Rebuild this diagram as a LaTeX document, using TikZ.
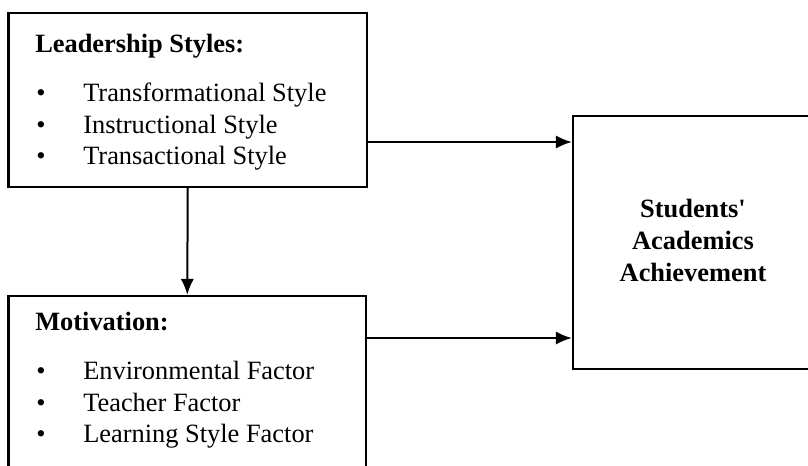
\documentclass[tikz,border=0pt]{standalone}
\usepackage{fontspec}
\setmainfont{Liberation Serif}
\usepackage{tikz}
\usetikzlibrary{positioning,calc,fit,arrows.meta}
\tikzset{box/.style={draw,line width=1.8pt,inner sep=0pt},
	hd/.style={anchor=base west,inner sep=0pt,font=\fontsize{19.8}{24}\selectfont\bfseries},
	itm/.style={anchor=base west,inner sep=0pt,font=\fontsize{19.8}{24}\selectfont},
	bul/.style={anchor=base west,inner sep=0pt,font=\fontsize{19.8}{24}\selectfont},
	arr/.style={line width=1.5pt,-{Latex[length=12pt,width=10pt]}}}

\begin{document}
\begin{tikzpicture}[x=0.75pt,y=-0.75pt]
	\useasboundingbox (0,0) rectangle (808,465);
	\clip (0,0) rectangle (808,465);
	\node[box,fit={(8.5,13) (367,187)}] (lead) {};
	\node[box,fit={(8.5,296) (366,490)}] (motiv) {};
	\node[box,fit={(573,116) (813,369)}] (ach) {};
	\node[hd] (leadhd) at (35,52) {Leadership Styles:};
	\foreach \t [count=\i] in {Transformational Style,Instructional Style,Transactional Style}{
		\node[bul] (leadb\i) at (36,70+31.5*\i) {\textbullet};
		\node[itm] (leadi\i) at (83,70+31.5*\i) {\t};
	}
	\node[hd] (motivhd) at (35,330) {Motivation:};
	\foreach \t [count=\i] in {Environmental Factor,Teacher Factor,Learning Style Factor}{
		\node[bul] (motivb\i) at (36,348+31.5*\i) {\textbullet};
		\node[itm] (motivi\i) at (83,348+31.5*\i) {\t};
	}
	\node[align=center,inner sep=0pt,font=\fontsize{19.8}{24}\selectfont\bfseries] (achtxt) at (693,240) {Students\textquotesingle\\Academics\\Achievement};
	\draw[arr] (lead.south) -- (motiv.north);
	\draw[arr] (lead.east |- 0,142) -- (ach.west |- 0,142);
	\draw[arr] (motiv.east |- 0,338) -- (ach.west |- 0,338);
\end{tikzpicture}
\end{document}
